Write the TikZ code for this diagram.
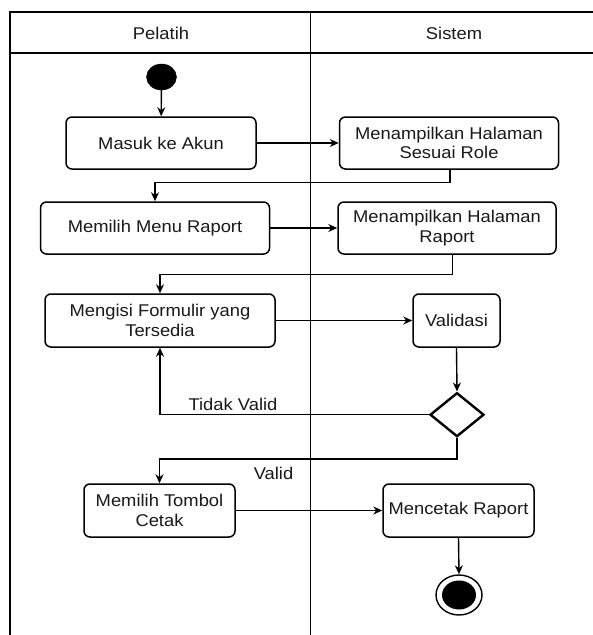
\documentclass[tikz,border=0pt]{standalone}
\usepackage{fontspec}
\setmainfont{Liberation Sans}[FakeStretch=1.08]
\usetikzlibrary{arrows.meta,shapes.geometric}
\begin{document}
\begin{tikzpicture}[x=1pt,y=-1pt,
  font=\fontsize{17}{19.5}\selectfont,
  act/.style={draw=black,line width=1.5pt,rounded corners=6pt,fill=white,align=center,inner sep=0pt,text=black!90},
  flow/.style={draw=black,line width=1.4pt,-{Stealth[length=9pt,width=8pt]}},
  lane/.style={draw=black,line width=1.5pt},
  lbl/.style={inner sep=0pt,text=black!90}]
\useasboundingbox (0,0) rectangle (593,635);
\fill[white] (0,0) rectangle (593,635);
% swimlanes
\draw[lane] (10,635) -- (10,12) -- (593,12);
\draw[lane] (10,53) -- (593,53);
\draw[lane] (310.5,12) -- (310.5,635);
\node[lbl] (hp) at (161,33) {Pelatih};
\node[lbl] (hs) at (454,33) {Sistem};
% nodes
\node[ellipse,fill=black,draw=black,minimum width=30pt,minimum height=26pt,inner sep=0pt] (start) at (161.5,77) {};
\node[act,minimum width=190pt,minimum height=52pt] (masuk) at (161,143) {Masuk ke Akun};
\node[act,minimum width=219pt,minimum height=52pt] (t1) at (449,143) {Menampilkan Halaman\\Sesuai Role};
\node[act,minimum width=229pt,minimum height=52pt] (menu) at (155,228) {Memilih Menu Raport};
\node[act,minimum width=218pt,minimum height=52pt] (t2) at (447,228) {Menampilkan Halaman\\Raport};
\node[act,minimum width=230pt,minimum height=53pt] (isi) at (160,320.5) {Mengisi Formulir yang\\Tersedia};
\node[act,minimum width=87pt,minimum height=53pt] (val) at (456.5,320.5) {Validasi};
\node[diamond,draw=black,line width=2.4pt,fill=white,minimum width=54pt,minimum height=44pt,inner sep=0pt] (dec) at (457,414.7) {};
\node[act,minimum width=151pt,minimum height=53pt] (tombol) at (159.5,510.5) {Memilih Tombol\\Cetak};
\node[act,minimum width=151pt,minimum height=53pt] (cetak) at (458.5,510.5) {Mencetak Raport};
\node[ellipse,draw=black,line width=1.4pt,fill=white,minimum width=46pt,minimum height=40pt,inner sep=0pt] (end) at (459,595) {};
\node[ellipse,fill=black,minimum width=34pt,minimum height=29pt,inner sep=0pt] (endin) at (end.center) {};
% connectors
\draw[flow] (start) -- (masuk);
\draw[flow] (masuk) -- (t1);
\draw[flow] ([xshift=1pt]t1.south) -- ++(0,13) -| (menu.north);
\draw[flow] (menu) -- (t2);
\draw[flow] ([xshift=5.5pt]t2.south) -- ++(0,20) -| (isi.north);
\draw[flow] (isi) -- (val);
\draw[flow] (val.south) -- (dec.north);
\draw[flow] (dec.west) -| (isi.south);
\draw[flow] (dec.south) -- ++(0,21) -| (tombol.north);
\draw[flow] (tombol) -- (cetak);
\draw[flow] (cetak.south) -- (end.north);
% labels
\node[lbl] (ltv) at (233,404) {Tidak Valid};
\node[lbl] (lv) at (273.5,473) {Valid};
\end{tikzpicture}
\end{document}
